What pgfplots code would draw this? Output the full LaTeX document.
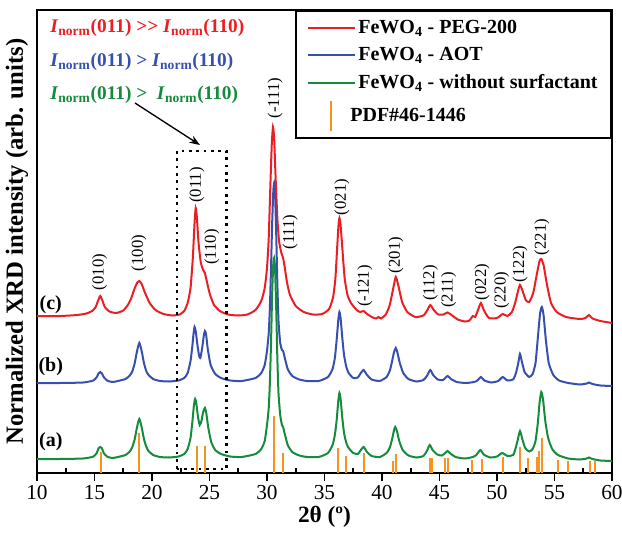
\documentclass[border=0pt]{standalone}
\usepackage{pgfplots}
\pgfplotsset{compat=1.18}
\usepackage{fontspec}
\setmainfont{Liberation Serif}
\usetikzlibrary{arrows.meta}

\definecolor{cred}{RGB}{235,30,35}
\definecolor{cblue}{RGB}{55,80,175}
\definecolor{cgreen}{RGB}{20,140,60}
\definecolor{corange}{RGB}{247,148,30}

\pgfplotsset{
    linelegend/.style={legend image code/.code={\draw[##1] (0pt,0pt) -- (35pt,0pt);}},
    barlegend/.style={legend image code/.code={\path[draw=none, fill=none] (0pt,0pt) -- (35pt,0pt); \draw[##1] (17pt,-11pt) -- (17pt,11pt);}},
}

\begin{document}
\begin{tikzpicture}[x=1pt,y=1pt]
\useasboundingbox (-27.75,-45) rectangle (438.75,354.75);
\begin{axis}[
    scale only axis,
    width=431.25pt, height=347.25pt,
    xmin=10, xmax=60, ymin=0, ymax=463,
    xtick={10,15,...,60}, ytick=\empty,
    xtick pos=left,
    tick align=outside,
    major tick length=6pt,
    minor x tick num=1,
    minor tick length=4pt,
    minor x tick style={yshift=4pt},
    axis line style={line width=1.5pt},
    tick style={line width=1.2pt, black},
    /pgf/number format/assume math mode=true,
    ticklabel style={font=\fontsize{16}{18}\selectfont},
    xlabel={2θ (º)},
    xlabel style={font=\fontsize{17.5}{20}\selectfont\bfseries, yshift=2pt},
    ylabel={Normalized XRD intensity (arb. units)},
    ylabel style={font=\fontsize{18.5}{21}\selectfont\bfseries, yshift=-3pt},
    clip=false,
    legend cell align=left,
    legend style={at={(1,1)}, anchor=north east, draw=black, line width=1.5pt,
        font=\fontsize{15}{18}\selectfont\bfseries, row sep=5pt,
        inner xsep=8pt, inner ysep=5pt},
    linelegend,
]

% (c) PEG-200
\addplot[cred, line width=1.5pt, smooth, tension=0.35] coordinates {
(10,157) (12,157) (13.5,158) (14.3,159.5) (14.8,162) (15.1,166) (15.3,172) (15.5,177)
(15.7,172) (15.9,166) (16.3,161.5) (16.9,160) (17.5,162.5) (17.9,168) (18.2,175) (18.5,185)
(18.75,191) (18.9,192) (19.1,189) (19.4,180) (19.8,170) (20.3,163) (21.0,159) (21.8,157.5)
(22.4,158.5) (22.8,162) (23.1,170) (23.35,185) (23.55,215) (23.7,250) (23.8,265) (23.9,256)
(24.05,230) (24.25,210) (24.45,203) (24.6,200) (24.8,190) (25.05,178) (25.4,168) (25.9,162)
(26.6,158.5) (27.5,157.5) (28.3,158.5) (29.0,163) (29.5,172) (29.8,185) (30.0,205) (30.15,235)
(30.3,290) (30.42,330) (30.52,346) (30.62,335) (30.75,295) (30.9,255) (31.05,232) (31.25,220)
(31.4,215) (31.55,205) (31.75,190) (32.0,178) (32.5,167) (33.2,161) (34,158.5) (34.8,159)
(35.4,164) (35.75,176) (35.95,195) (36.1,225) (36.22,248) (36.3,255) (36.4,248) (36.55,225)
(36.75,195) (37.0,178) (37.3,170) (37.8,163) (38.1,161) (38.4,162) (38.7,159) (39.2,155.5)
(39.5,154.5) (39.7,156) (39.9,154.5) (40.3,158) (40.65,167) (40.95,183) (41.2,196) (41.45,186)
(41.75,171) (42.2,161) (42.9,156) (43.6,157.5) (43.95,163) (44.2,168) (44.5,163) (44.9,158.5)
(45.35,158.5) (45.7,160.5) (46.1,157.5) (46.6,153.5) (47.2,151.5) (47.6,152.5) (47.9,157)
(48.1,156) (48.35,163) (48.6,170) (48.85,163) (49.3,155) (50.0,155) (50.5,159) (50.9,157)
(51.3,161) (51.6,171) (51.85,183) (52.0,188) (52.2,183) (52.5,173) (52.8,171) (53.15,180)
(53.45,198) (53.7,212) (53.85,214) (54.05,208) (54.35,188) (54.7,170) (55.2,161) (56,156)
(57.2,154) (57.7,155) (58.0,158) (58.3,154.5) (59,152) (60,150)
};
\addlegendentry{FeWO\textsubscript{4} - PEG-200}

% (b) AOT
\addplot[cblue, line width=1.5pt, smooth, tension=0.35] coordinates {
(10,90) (12,90) (14,90.5) (14.9,92.5) (15.2,96) (15.35,99.5) (15.5,101) (15.65,99.5) (15.8,96)
(16.1,92.5) (16.6,91) (17.7,94) (18.1,98) (18.3,102) (18.5,110) (18.7,122) (18.9,130)
(19.1,122) (19.3,110) (19.5,102) (19.7,98) (20.1,94) (20.7,92) (21.5,91.5) (22.3,92.5)
(22.8,95) (23.1,100) (23.35,112) (23.5,126) (23.6,138) (23.7,146) (23.8,142) (23.95,128)
(24.1,117) (24.2,115) (24.35,124) (24.5,137) (24.6,142) (24.7,139) (24.85,124) (25.1,108)
(25.5,99) (26,95) (26.8,92.5) (27.8,92) (29.0,95) (29.5,100) (29.8,108) (30.0,122)
(30.15,140) (30.25,165) (30.35,205) (30.45,250) (30.55,282) (30.62,290) (30.7,280) (30.8,240)
(30.9,190) (31.0,152) (31.15,130) (31.3,123) (31.4,122) (31.55,115) (31.8,104) (32.2,97)
(32.8,93.5) (33.5,92) (34.5,92) (35.3,96) (35.7,104) (35.9,115) (36.05,132) (36.2,153)
(36.3,161) (36.4,155) (36.55,135) (36.7,118) (36.9,106) (37.1,100) (37.5,95) (37.9,95.5)
(38.1,99) (38.4,103) (38.7,98) (39.1,93.5) (39.8,92) (40.4,96) (40.7,103) (40.9,113)
(41.05,121) (41.2,125) (41.35,120) (41.55,110) (41.85,100) (42.3,94) (43,91.5) (43.6,93)
(43.9,97) (44.2,103) (44.45,98) (44.85,93.5) (45.3,93) (45.7,97) (46.0,94) (46.5,91)
(47.3,90) (48.0,91) (48.3,92.5) (48.6,96) (48.9,92.5) (49.5,90.5) (50.1,92) (50.5,96)
(50.9,92.5) (51.4,93.5) (51.65,100) (51.85,110) (52.0,119) (52.15,112) (52.4,101) (52.8,96)
(53.1,99) (53.35,110) (53.55,135) (53.75,160) (53.9,166) (54.05,158) (54.25,133) (54.5,110)
(54.9,98) (55.4,92.5) (56.2,90) (57.2,88.5) (57.8,89.5) (58.0,90.5) (58.3,89) (59,87.5) (60,87)
};
\addlegendentry{FeWO\textsubscript{4} - AOT}

% (a) without surfactant
\addplot[cgreen, line width=1.5pt, smooth, tension=0.35] coordinates {
(10,14) (12,14) (14,14.5) (14.9,16.4) (15.2,20) (15.35,24.8) (15.5,26) (15.65,24.8) (15.8,20)
(16.1,16.4) (16.6,15) (17.7,18) (18.1,22) (18.3,26.4) (18.5,34) (18.7,46) (18.9,54) (19.1,46)
(19.3,34) (19.5,26.4) (19.7,22) (20.1,18) (20.7,16) (21.5,15.5) (22.3,16.5) (22.8,19)
(23.1,24) (23.35,35) (23.5,50) (23.65,68) (23.75,74) (23.85,70) (24.0,56) (24.15,48)
(24.3,52) (24.45,61) (24.6,65) (24.72,60) (24.9,45) (25.15,31) (25.5,23) (26,19) (26.8,16.5)
(27.8,16) (29.0,19) (29.5,24) (29.8,32) (30.0,48) (30.15,65) (30.25,90) (30.35,130)
(30.45,180) (30.55,210) (30.62,215) (30.7,205) (30.8,165) (30.9,115) (31.0,80) (31.15,58)
(31.3,48) (31.4,46) (31.55,39) (31.8,28) (32.2,21) (32.8,17.5) (33.5,16) (34.5,16) (35.3,20)
(35.7,28) (35.9,38) (36.05,52) (36.2,72) (36.3,80) (36.4,74) (36.55,55) (36.7,40) (36.9,30)
(37.1,25) (37.5,20) (37.9,19) (38.1,22) (38.4,26) (38.7,21) (39.1,17) (39.8,16) (40.4,20)
(40.7,26) (40.9,35) (41.05,43) (41.15,46) (41.3,42) (41.5,32) (41.8,23) (42.3,17.5) (43,15.5)
(43.6,17) (43.9,22) (44.15,28) (44.4,23) (44.8,18.5) (45.2,17.5) (45.5,20) (45.7,22)
(45.95,19.5) (46.4,16) (47.2,14.5) (47.9,16) (48.2,18) (48.55,23) (48.85,18.5) (49.4,15.5)
(50.0,16.5) (50.45,20) (50.9,17) (51.4,18) (51.6,24) (51.8,33) (52.0,42) (52.2,34) (52.45,25)
(52.8,21.5) (53.1,24) (53.35,32) (53.55,50) (53.7,70) (53.85,81) (54.0,74) (54.2,52)
(54.45,35) (54.8,24) (55.3,18) (56.2,14.5) (57.2,13.5) (57.8,14.5) (58.0,15.5) (58.3,14)
(59,12.5) (60,12)
};
\addlegendentry{FeWO\textsubscript{4} - without surfactant}

% PDF#46-1446 reference lines
\addplot[corange, line width=1.5pt, ycomb, mark=none, barlegend] coordinates {
(15.6,21) (18.9,40) (23.9,27) (24.6,27) (30.6,57) (31.4,20) (36.2,25) (36.9,17) (38.4,20)
(41.0,12) (41.2,19) (44.2,15) (44.35,15) (45.5,15) (45.7,15) (47.85,13) (48.7,14) (50.5,16)
(52.0,26) (52.7,15) (53.45,16) (53.65,22) (53.95,35) (55.3,13) (56.2,12) (58.1,12) (58.55,12)
};
\addlegendentry{\hspace*{-6pt}PDF\#46-1446}

% peak indices
\begin{scope}[every node/.style={rotate=90, font=\fontsize{12.5}{14}\selectfont}]
\node at (axis cs:15.45,201) {(010)};
\node at (axis cs:18.85,220) {(100)};
\node at (axis cs:23.9,288) {(011)};
\node at (axis cs:25.2,226) {(110)};
\node at (axis cs:30.7,375) {(-111)};
\node at (axis cs:32.0,241) {(111)};
\node at (axis cs:36.5,276) {(021)};
\node at (axis cs:38.5,187) {(-121)};
\node at (axis cs:41.2,218) {(201)};
\node at (axis cs:44.2,190) {(112)};
\node at (axis cs:45.8,183) {(211)};
\node at (axis cs:48.7,191) {(022)};
\node at (axis cs:50.4,183) {(220)};
\node at (axis cs:52.0,209) {(122)};
\node at (axis cs:53.9,236) {(221)};
\end{scope}

% series labels
\begin{scope}[every node/.style={font=\fontsize{15}{17}\selectfont\bfseries}]
\node at (axis cs:11.2,168) {(c)};
\node at (axis cs:11.2,106) {(b)};
\node at (axis cs:11.2,31) {(a)};
\end{scope}

% intensity ratio notes
\begin{scope}[every node/.style={anchor=west, font=\fontsize{14.5}{17}\selectfont\bfseries}]
\node[text=cred] at (axis cs:10.75,445) {\textit{I}\textsubscript{norm}(011) >{}> \textit{I}\textsubscript{norm}(110)};
\node[text=cblue] at (axis cs:10.75,411) {\textit{I}\textsubscript{norm}(011) > \textit{I}\textsubscript{norm}(110)};
\node[text=cgreen] at (axis cs:10.75,378) {\textit{I}\textsubscript{norm}(011) >\ \ \textit{I}\textsubscript{norm}(110)};
\end{scope}

\draw[-{Stealth[length=8pt,width=6pt]}, line width=1pt] (axis cs:18.52,370) -- (axis cs:24.17,328);
\draw[line width=2pt, dash pattern=on 2pt off 3.5pt] (axis cs:22.17,4) rectangle (axis cs:26.5,322);

\end{axis}
\end{tikzpicture}
\end{document}
